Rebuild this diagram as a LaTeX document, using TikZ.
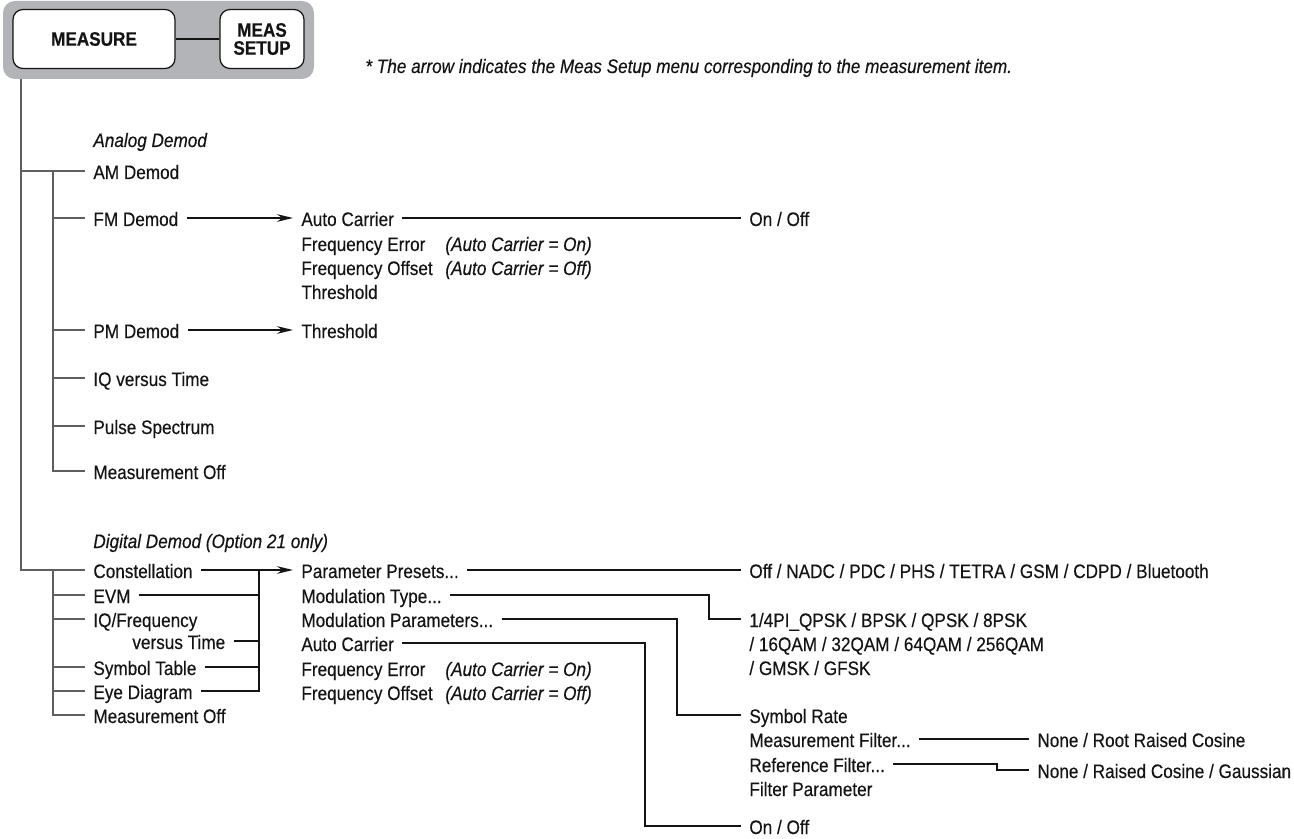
\documentclass[tikz,border=0pt]{standalone}
\usepackage{fontspec}
\setmainfont{Liberation Sans}[FakeStretch=0.88, FakeBold=0.35]
\usetikzlibrary{arrows.meta}
\definecolor{KeyGray}{RGB}{178,180,183}
\definecolor{TreeGray}{RGB}{95,95,95}
\definecolor{Ink}{RGB}{20,20,20}
\newcommand{\bodyfont}{\fontsize{9.75}{12}\selectfont}

\begin{document}
\begin{tikzpicture}[
  x=0.5pt, y=-0.5pt,
  item/.style={anchor=west, inner xsep=4pt, inner ysep=0pt, text height=0.8em, text depth=0pt, text=Ink, font=\bodyfont},
  note/.style={item, font=\bodyfont\itshape},
  key/.style={draw=Ink, fill=white, rounded corners=5pt, line width=0.6pt, align=center, minimum height=29.5pt, text=Ink, font=\fontsize{9.75}{9}\selectfont\bfseries},
  tree/.style={draw=TreeGray, line width=0.7pt},
  link/.style={draw=Ink, line width=0.6pt},
  setarrow/.style={draw=Ink, line width=1pt, -{Stealth[length=8pt, width=3.8pt]}}
]
\useasboundingbox (0,0) rectangle (1294,839);

% front panel keys
\fill[KeyGray, rounded corners=6pt] (3,1) rectangle (314,79);
\node[key, minimum width=81pt] (measure) at (94,39) {MEASURE};
\node[key, minimum width=42pt] (meassetup) at (262,39) {MEAS\\SETUP};
\draw[draw=Ink, line width=1.4pt] (measure) -- (meassetup);
\node[note] (remark) at (357,65) {* The arrow indicates the Meas Setup menu corresponding to the measurement item.};
\coordinate (root) at (21,79);
\coordinate (busx) at (53,0);
\coordinate (setbus) at (259,0);

% analog demod
\node[note] (analog) at (85,139) {Analog Demod};
\node[item] (am) at (85,171) {AM Demod};
\node[item] (fm) at (85,218) {FM Demod};
\node[item] (pm) at (85,330) {PM Demod};
\node[item] (iqt) at (85,378) {IQ versus Time};
\node[item] (pulse) at (85,426) {Pulse Spectrum};
\node[item] (aoff) at (85,471) {Measurement Off};

\node[item] (fmcarrier) at (293,218) {Auto Carrier};
\node[item] (fmerror) at (293,243) {Frequency Error};
\node[note] (fmerrnote) at (437,243) {(Auto Carrier = On)};
\node[item] (fmoffset) at (293,267) {Frequency Offset};
\node[note] (fmoffnote) at (437,267) {(Auto Carrier = Off)};
\node[item] (fmthresh) at (293,291) {Threshold};
\node[item] (fmonoff) at (741,218) {On / Off};
\node[item] (pmthresh) at (293,330) {Threshold};

% digital demod
\node[note] (digital) at (85,540) {Digital Demod (Option 21 only)};
\node[item] (constel) at (85,570) {Constellation};
\node[item] (evm) at (85,595) {EVM};
\node[item] (iqf) at (85,619) {IQ/Frequency};
\node[item] (iqfvt) at (124,641) {versus Time};
\node[item] (symtab) at (85,667) {Symbol Table};
\node[item] (eye) at (85,691) {Eye Diagram};
\node[item] (doff) at (85,715) {Measurement Off};

\node[item] (presets) at (293,570) {Parameter Presets...};
\node[item] (modtype) at (293,595) {Modulation Type...};
\node[item] (modpar) at (293,619) {Modulation Parameters...};
\node[item] (dcarrier) at (293,643) {Auto Carrier};
\node[item] (derror) at (293,668) {Frequency Error};
\node[note] (derrnote) at (437,668) {(Auto Carrier = On)};
\node[item] (doffset) at (293,692) {Frequency Offset};
\node[note] (doffnote) at (437,692) {(Auto Carrier = Off)};

\node[item] (presetlist) at (741,570) {Off / NADC / PDC / PHS / TETRA / GSM / CDPD / Bluetooth};
\node[item] (modlistA) at (741,619) {1/4PI\_QPSK / BPSK / QPSK / 8PSK};
\node[item] (modlistB) at (741,643) {/ 16QAM / 32QAM / 64QAM / 256QAM};
\node[item] (modlistC) at (741,667) {/ GMSK / GFSK};
\node[item] (symrate) at (741,715) {Symbol Rate};
\node[item] (measfilt) at (741,739) {Measurement Filter...};
\node[item] (reffilt) at (741,764) {Reference Filter...};
\node[item] (filtpar) at (741,788) {Filter Parameter};
\node[item] (donoff) at (741,826) {On / Off};
\node[item] (measfiltlist) at (1029,739) {None / Root Raised Cosine};
\node[item] (reffiltlist) at (1029,770) {None / Raised Cosine / Gaussian};

\coordinate (elbMT) at (709,0);
\coordinate (elbMP) at (677,0);
\coordinate (elbAC) at (645,0);
\coordinate (elbRF) at (997,0);

% menu tree
\draw[tree] (root) |- (constel.west);
\draw[tree] (root |- am.west) -- (am.west);
\draw[tree] (busx |- am.west) |- (aoff.west);
\foreach \n in {fm,pm,iqt,pulse} \draw[tree] (busx |- \n.west) -- (\n.west);
\draw[tree] (busx |- constel.west) |- (doff.west);
\foreach \n in {evm,iqf,symtab,eye} \draw[tree] (busx |- \n.west) -- (\n.west);

% meas setup links
\draw[setarrow] (fm.east) -- (fmcarrier.west);
\draw[setarrow] (pm.east) -- (pmthresh.west);
\draw[setarrow] (constel.east) -- (presets.west);
\draw[link] (eye.east) -| (setbus |- constel.east);
\foreach \n in {evm,iqfvt,symtab} \draw[link] (\n.east) -- (setbus |- \n.east);

% setting values
\draw[link] (fmcarrier.east) -- (fmonoff.west);
\draw[link] (presets.east) -- (presetlist.west);
\draw[link] (modtype.east) -| (elbMT |- modlistA.west) -- (modlistA.west);
\draw[link] (modpar.east) -| (elbMP |- symrate.west) -- (symrate.west);
\draw[link] (dcarrier.east) -| (elbAC |- donoff.west) -- (donoff.west);
\draw[link] (measfilt.east) -- (measfiltlist.west);
\draw[link] (reffilt.east) -| (elbRF |- reffiltlist.west) -- (reffiltlist.west);
\end{tikzpicture}
\end{document}
